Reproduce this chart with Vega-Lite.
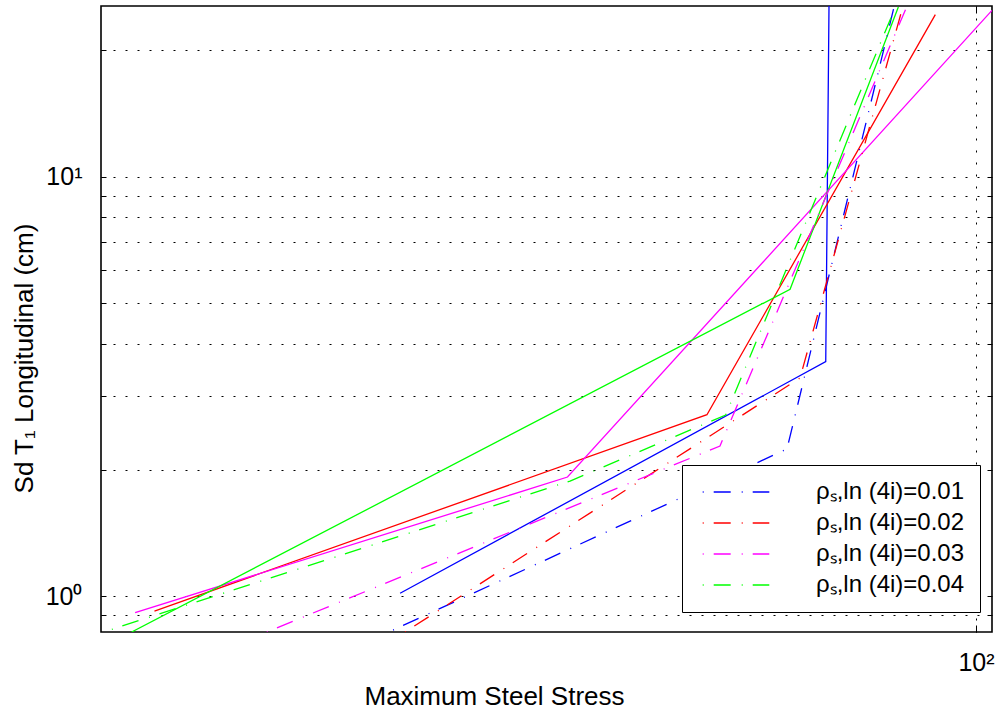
{
  "$schema": "https://vega.github.io/schema/vega-lite/v6.json",
  "width": 891,
  "height": 626,
  "autosize": {"type": "none"},
  "padding": {"left": 101, "top": 6, "right": 10, "bottom": 78},
  "background": "white",
  "config": {
    "view": {"stroke": "black", "strokeWidth": 1.6},
    "font": "Liberation Sans",
    "axis": {"labelFont": "Liberation Sans", "titleFont": "Liberation Sans", "labelColor": "black", "titleColor": "black", "tickColor": "black", "domain": false}
  },
  "data": {
    "values": [
      {"s": "ρₛ,ln (4i)=0.01", "t": "solid", "i": 0, "x": 21.97, "y": 1.015},
      {"s": "ρₛ,ln (4i)=0.01", "t": "solid", "i": 1, "x": 67.34, "y": 3.621},
      {"s": "ρₛ,ln (4i)=0.01", "t": "solid", "i": 2, "x": 67.92, "y": 25.53},
      {"s": "ρₛ,ln (4i)=0.02", "t": "solid", "i": 0, "x": 11.51, "y": 0.9209},
      {"s": "ρₛ,ln (4i)=0.02", "t": "solid", "i": 1, "x": 49.26, "y": 2.706},
      {"s": "ρₛ,ln (4i)=0.02", "t": "solid", "i": 2, "x": 89.85, "y": 24.34},
      {"s": "ρₛ,ln (4i)=0.03", "t": "solid", "i": 0, "x": 10.94, "y": 0.9124},
      {"s": "ρₛ,ln (4i)=0.03", "t": "solid", "i": 1, "x": 34.13, "y": 1.922},
      {"s": "ρₛ,ln (4i)=0.03", "t": "solid", "i": 2, "x": 104.3, "y": 24.92},
      {"s": "ρₛ,ln (4i)=0.04", "t": "solid", "i": 0, "x": 10.84, "y": 0.8207},
      {"s": "ρₛ,ln (4i)=0.04", "t": "solid", "i": 1, "x": 61.31, "y": 5.389},
      {"s": "ρₛ,ln (4i)=0.04", "t": "solid", "i": 2, "x": 81.52, "y": 25.39},
      {"s": "ρₛ,ln (4i)=0.01", "t": "dashdot", "i": 0, "x": 21.57, "y": 0.8296},
      {"s": "ρₛ,ln (4i)=0.01", "t": "dashdot", "i": 1, "x": 60.81, "y": 2.242},
      {"s": "ρₛ,ln (4i)=0.01", "t": "dashdot", "i": 2, "x": 80.60, "y": 25.39},
      {"s": "ρₛ,ln (4i)=0.02", "t": "dashdot", "i": 0, "x": 22.26, "y": 0.8207},
      {"s": "ρₛ,ln (4i)=0.02", "t": "dashdot", "i": 1, "x": 62.94, "y": 3.311},
      {"s": "ρₛ,ln (4i)=0.02", "t": "dashdot", "i": 2, "x": 82.53, "y": 25.53},
      {"s": "ρₛ,ln (4i)=0.03", "t": "dashdot", "i": 0, "x": 15.47, "y": 0.8207},
      {"s": "ρₛ,ln (4i)=0.03", "t": "dashdot", "i": 1, "x": 50.98, "y": 2.279},
      {"s": "ρₛ,ln (4i)=0.03", "t": "dashdot", "i": 2, "x": 83.40, "y": 25.53},
      {"s": "ρₛ,ln (4i)=0.04", "t": "dashdot", "i": 0, "x": 10.29, "y": 0.8329},
      {"s": "ρₛ,ln (4i)=0.04", "t": "dashdot", "i": 1, "x": 34.36, "y": 1.880},
      {"s": "ρₛ,ln (4i)=0.04", "t": "dashdot", "i": 2, "x": 51.75, "y": 2.702},
      {"s": "ρₛ,ln (4i)=0.04", "t": "dashdot", "i": 3, "x": 80.81, "y": 25.25}
    ]
  },
  "resolve": {"axis": {"x": "independent", "y": "independent"}},
  "layer": [
    {
      "transform": [{"filter": "datum.t == 'solid'"}],
      "mark": {"type": "line", "strokeWidth": 1.3, "clip": true},
      "encoding": {
        "x": {
          "field": "x", "type": "quantitative",
          "scale": {"type": "log", "domain": [10, 104.3], "nice": false},
          "title": "Maximum Steel Stress",
          "axis": {
            "values": [100], "labelExpr": "'10²'", "labelFontSize": 25, "labelBaseline": "middle", "labelPadding": 37,
            "grid": true, "gridDash": [2, 10], "gridColor": "black", "gridOpacity": 1, "gridWidth": 1,
            "ticks": true, "tickSize": -7, "tickWidth": 1,
            "titleFontSize": 26, "titleFontWeight": "normal", "titleX": 393, "titleY": 72, "titleBaseline": "alphabetic", "titleAlign": "center"
          }
        },
        "y": {
          "field": "y", "type": "quantitative",
          "scale": {"type": "log", "domain": [0.8207, 25.53], "nice": false},
          "title": "Sd T₁ Longitudinal (cm)",
          "axis": {
            "values": [0.9, 1, 2, 3, 4, 5, 6, 7, 8, 9, 10, 20],
            "labelExpr": "datum.value == 1 ? '10⁰' : (datum.value == 10 ? '10¹' : '')",
            "labelFontSize": 25, "labelPadding": 24,
            "grid": true, "gridDash": [2, 10], "gridColor": "black", "gridOpacity": 1, "gridWidth": 1,
            "ticks": true, "tickSize": -5, "tickWidth": 1,
            "titleFontSize": 26, "titleFontWeight": "normal", "titleX": -69, "titleY": 352, "titleBaseline": "alphabetic", "titleAlign": "center", "titleAngle": -90
          }
        },
        "color": {"field": "s", "type": "nominal", "scale": {"domain": ["ρₛ,ln (4i)=0.01", "ρₛ,ln (4i)=0.02", "ρₛ,ln (4i)=0.03", "ρₛ,ln (4i)=0.04"], "range": ["#0000ff", "#ff0000", "#ff00ff", "#00ff00"]}},
        "order": {"field": "i", "type": "quantitative"}
      }
    },
    {
      "transform": [{"filter": "datum.t == 'dashdot'"}],
      "mark": {"type": "line", "strokeWidth": 1.3, "strokeDash": [1, 10, 17, 11], "clip": true},
      "encoding": {
        "x": {
          "field": "x", "type": "quantitative",
          "scale": {"type": "log", "domain": [10, 104.3], "nice": false},
          "axis": {"orient": "top", "values": [100], "labels": false, "grid": false, "ticks": true, "tickSize": -7, "title": null}
        },
        "y": {
          "field": "y", "type": "quantitative",
          "scale": {"type": "log", "domain": [0.8207, 25.53], "nice": false},
          "axis": {"orient": "right", "values": [0.9, 1, 2, 3, 4, 5, 6, 7, 8, 9, 10, 20], "labels": false, "grid": false, "ticks": true, "tickSize": -5, "title": null}
        },
        "color": {
          "field": "s", "type": "nominal",
          "scale": {"domain": ["ρₛ,ln (4i)=0.01", "ρₛ,ln (4i)=0.02", "ρₛ,ln (4i)=0.03", "ρₛ,ln (4i)=0.04"], "range": ["#0000ff", "#ff0000", "#ff00ff", "#00ff00"]},
          "legend": {
            "orient": "none", "legendX": 581, "legendY": 459, "title": null,
            "fillColor": "white", "strokeColor": "black", "padding": 15,
            "symbolType": "M-0.63,0H6.03", "symbolSize": 400, "symbolDash": [1, 10, 17, 11], "symbolStrokeWidth": 1.3, "symbolFillColor": "transparent",
            "labelFont": "Liberation Sans", "labelFontSize": 24, "labelColor": "black", "labelOffset": 95, "rowPadding": 7, "labelLimit": 0
          }
        },
        "order": {"field": "i", "type": "quantitative"}
      }
    }
  ]
}
